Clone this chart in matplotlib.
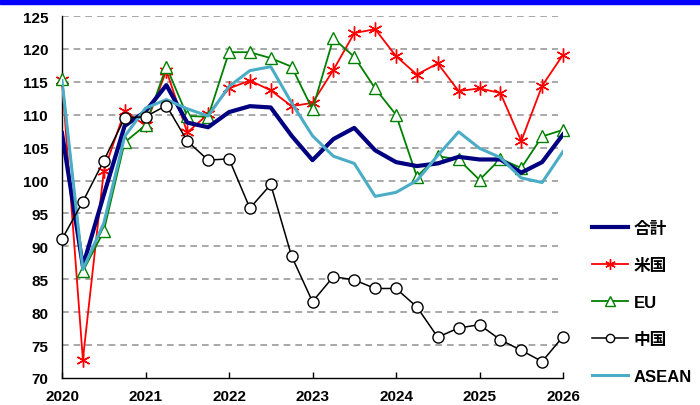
import matplotlib
matplotlib.use("Agg")
import matplotlib.pyplot as plt
import numpy as np

# Quarterly points, 2020.0 .. 2026.0
x_start = 2020.0
n_points = 25
x = x_start + np.arange(n_points) * 0.25

total = [107.2, 87.0, 97.8, 108.3, 110.5, 114.5, 108.8, 108.1, 110.4, 111.3, 111.1, 106.8, 103.1,
         106.3, 108.0, 104.6, 102.8, 102.2, 102.6, 103.6, 103.2, 103.2, 101.2, 102.8, 107.0]
usa = [115.3, 72.8, 101.4, 110.5, 108.4, 116.7, 107.3, 110.1, 114.0, 115.2, 113.7, 111.3, 111.8,
       116.8, 122.4, 123.0, 118.9, 116.1, 117.8, 113.6, 114.0, 113.3, 106.0, 114.4, 119.1]
eu = [115.5, 86.2, 92.3, 105.8, 108.4, 117.3, 109.8, 109.7, 119.5, 119.5, 118.6, 117.3, 110.8,
      121.6, 118.8, 114.0, 110.0, 100.6, 103.7, 103.2, 100.1, 103.3, 101.9, 106.7, 107.7]
china = [91.1, 96.8, 103.0, 109.5, 109.7, 111.4, 106.0, 103.1, 103.3, 95.8, 99.4, 88.5, 81.6,
         85.4, 84.9, 83.6, 83.6, 80.8, 76.2, 77.6, 78.1, 75.8, 74.2, 72.5, 76.3]
asean = [115.2, 86.5, 93.5, 106.7, 111.0, 112.3, 110.9, 109.8, 114.3, 116.7, 117.3, 111.8, 106.8,
         103.7, 102.6, 97.6, 98.2, 100.0, 103.8, 107.4, 104.9, 103.5, 100.4, 99.7, 104.4]

labels = ["合計", "米国", "EU", "中国", "ASEAN"]
year_ticks = [2020, 2021, 2022, 2023, 2024, 2025, 2026]
y_ticks = [70, 75, 80, 85, 90, 95, 100, 105, 110, 115, 120, 125]

plt.rcParams['font.family'] = ['Liberation Sans', 'Noto Sans CJK JP', 'DejaVu Sans']

fig = plt.figure(figsize=(7.0, 4.06), dpi=100)
# top blue band
fig.patches.append(plt.Rectangle((0, 1 - 5 / 406), 1, 5 / 406, transform=fig.transFigure,
                                 color='#0000FF', zorder=0))

ax = fig.add_axes([62 / 700, 1 - 379 / 406, (563 - 62) / 700, (379 - 17) / 406])

# dashed grid lines
for yv in y_ticks[1:]:
    ax.plot([2020, 2025.94], [yv, yv], color='#999999', lw=1.2, ls=(0, (4, 3)), zorder=1)

l_us, = ax.plot(x, usa, color='#FF0000', lw=1.3, marker=(6, 2, 0), ms=10, mew=1.0,
                label=labels[1], zorder=3, clip_on=False)
l_eu, = ax.plot(x, eu, color='#008000', lw=1.3, marker='^', ms=9, mfc='white', mec='#008000',
                mew=1.0, label=labels[2], zorder=3, clip_on=False)
l_tot, = ax.plot(x, total, color='#000080', lw=3.0, label=labels[0], zorder=4)
l_as, = ax.plot(x, asean, color='#4BACC6', lw=2.2, label=labels[4], zorder=5)
l_cn, = ax.plot(x, china, color='black', lw=1.1, marker='o', ms=8, mfc='white', mec='black',
                mew=1.0, label=labels[3], zorder=6, clip_on=False)

ax.set_xlim(2020, 2026)
ax.set_ylim(70, 125)
ax.set_xticks(year_ticks)
ax.set_xticklabels([str(v) for v in year_ticks], fontsize=11, fontweight='bold')
ax.set_yticks(y_ticks)
ax.set_yticklabels([str(v) for v in y_ticks], fontsize=11, fontweight='bold')
ax.tick_params(axis='x', direction='in', length=4, width=1, pad=8)
ax.tick_params(axis='y', length=0, pad=10)
for s in ['top', 'right']:
    ax.spines[s].set_visible(False)
for s in ['left', 'bottom']:
    ax.spines[s].set_linewidth(1.0)
ax.patch.set_alpha(0)

leg = fig.legend([l_tot, l_us, l_eu, l_cn, l_as], labels,
                 loc='upper left', bbox_to_anchor=(577 / 700, 1 - 207 / 406),
                 frameon=False, handlelength=2.15, handletextpad=0.35, labelspacing=1.32,
                 markerscale=0.75, prop={'size': 12, 'weight': 'bold'})

fig.savefig('out.png', dpi=100)
